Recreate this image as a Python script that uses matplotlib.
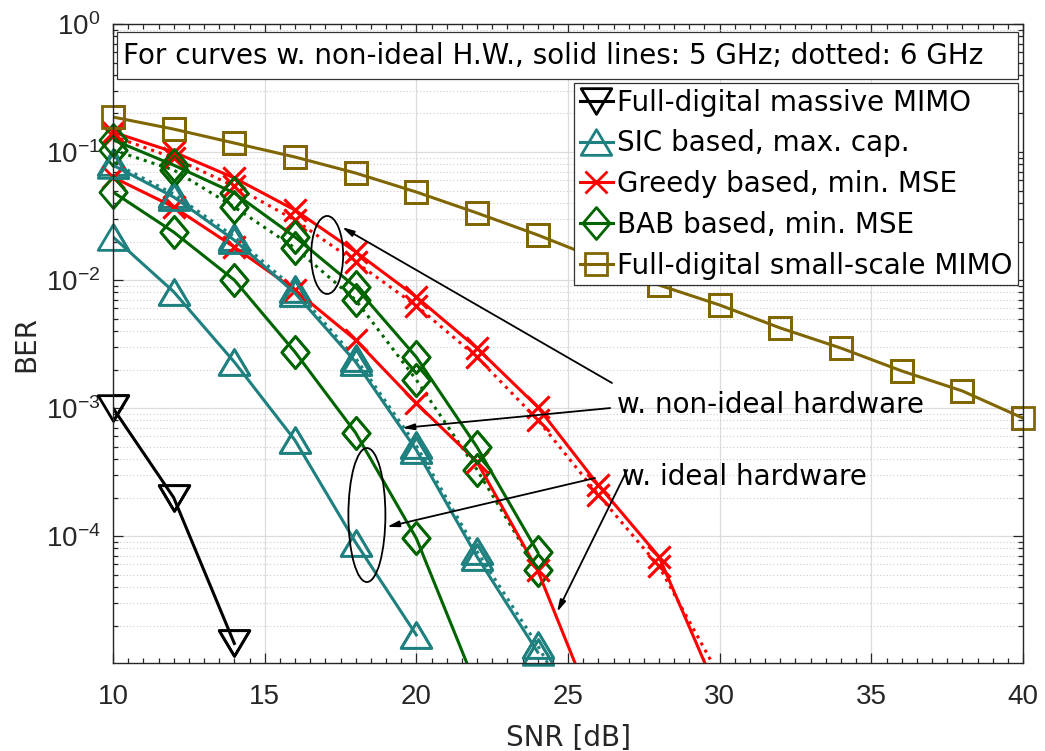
import matplotlib
matplotlib.use("Agg")
import matplotlib.pyplot as plt
import numpy as np
from matplotlib.patches import Ellipse, Rectangle
from matplotlib.path import Path
from matplotlib.ticker import LogLocator, MultipleLocator, NullFormatter

plt.rcParams["font.family"] = ["DejaVu Sans"]
plt.rcParams["mathtext.fontset"] = "custom"
plt.rcParams["mathtext.rm"] = "Liberation Sans"
plt.rcParams["mathtext.it"] = "Liberation Sans"

# ---- data -------------------------------------------------------------
snr_full_massive = [10, 12, 14]
ber_full_massive = [1.0e-3, 2.0e-4, 1.45e-5]

snr_sic_ideal = [10, 12, 14, 16, 18, 20]
ber_sic_ideal = [0.0217, 8.1e-3, 2.29e-3, 5.6e-4, 8.9e-5, 1.69e-5]

snr_sic_5g = [10, 12, 14, 16, 18, 20, 22, 24]
ber_sic_5g = [0.079, 0.0445, 0.0205, 7.9e-3, 2.29e-3, 4.7e-4, 6.9e-5, 1.24e-5]
snr_sic_6g = [10, 12, 14, 16, 18, 20, 22, 24, 26]
ber_sic_6g = [0.083, 0.047, 0.0218, 8.5e-3, 2.45e-3, 5.1e-4, 7.6e-5, 1.4e-5, 2.0e-6]

snr_greedy_ideal = [10, 12, 14, 16, 18, 20, 22, 24, 26]
ber_greedy_ideal = [0.0636, 0.0372, 0.0181, 8.35e-3, 3.4e-3, 1.09e-3, 3.8e-4, 5.4e-5, 3.6e-6]

snr_greedy_5g = [10, 12, 14, 16, 18, 20, 22, 24, 26, 28, 30]
ber_greedy_5g = [0.143, 0.100, 0.0627, 0.0352, 0.0166, 7.37e-3, 2.94e-3, 1.02e-3,
                 2.5e-4, 6.9e-5, 5.5e-6]
snr_greedy_6g = [10, 12, 14, 16, 18, 20, 22, 24, 26, 28, 30]
ber_greedy_6g = [0.133, 0.090, 0.054, 0.0294, 0.0138, 6.3e-3, 2.5e-3, 8.1e-4,
                 2.1e-4, 5.8e-5, 8.0e-6]

snr_bab_ideal = [10, 12, 14, 16, 18, 20, 22]
ber_bab_ideal = [0.0487, 0.0237, 0.0100, 2.74e-3, 6.4e-4, 9.6e-5, 6.5e-6]

snr_bab_5g = [10, 12, 14, 16, 18, 20, 22, 24]
ber_bab_5g = [0.1244, 0.079, 0.0478, 0.0217, 8.8e-3, 2.5e-3, 4.96e-4, 7.5e-5]
snr_bab_6g = [10, 12, 14, 16, 18, 20, 22, 24]
ber_bab_6g = [0.1037, 0.0724, 0.0372, 0.0178, 6.98e-3, 1.66e-3, 3.3e-4, 5.4e-5]

snr_full_small = [10, 12, 14, 16, 18, 20, 22, 24, 26, 28, 30, 32, 34, 36, 38, 40]
ber_full_small = [0.1876, 0.151, 0.1175, 0.0914, 0.0685, 0.0487, 0.0334, 0.0225,
                  0.0146, 9.14e-3, 6.38e-3, 4.22e-3, 2.94e-3, 1.95e-3, 1.36e-3, 8.35e-4]

legend_labels = [
    "Full-digital massive MIMO",
    "SIC based, max. cap.",
    "Greedy based, min. MSE",
    "BAB based, min. MSE",
    "Full-digital small-scale MIMO",
]

# ---- style ------------------------------------------------------------
BLACK = "#000000"
TEAL = "#1f8080"
RED = "#ff0000"
GREEN = "#006400"
OLIVE = "#806600"
AX_COLOR = "#262626"
YMIN, YMAX = 1.02e-5, 1.0

# wider-than-tall triangles and taller-than-wide diamond
TRI_UP = Path([(0, 0.84), (-1, -0.84), (1, -0.84), (0, 0.84)], closed=True)
TRI_DOWN = Path([(0, -0.84), (-1, 0.84), (1, 0.84), (0, -0.84)], closed=True)
DIAMOND = Path([(0, 1), (0.85, 0), (0, -1), (-0.85, 0), (0, 1)], closed=True)

MARKERS = {
    "tri_down": dict(marker=TRI_DOWN, markersize=22),
    "tri_up": dict(marker=TRI_UP, markersize=22),
    "x": dict(marker="x", markersize=16),
    "diamond": dict(marker=DIAMOND, markersize=23),
    "square": dict(marker="s", markersize=15.5),
}

fig = plt.figure(figsize=(10.45, 7.51), dpi=100)
ax = fig.add_axes([113 / 1045, 1 - 663 / 751, 910 / 1045, 639 / 751])


def curve(x, y, style, color, mkey):
    """Line clipped to the axes; markers of in-range points are left unclipped."""
    mk = MARKERS[mkey]
    kw = dict(color=color, markerfacecolor="none", markeredgewidth=2.0)
    line, = ax.plot(x, y, style, linewidth=2.2, **mk, **kw)
    xs = [a for a, b in zip(x, y) if YMIN <= b <= YMAX]
    ys = [b for b in y if YMIN <= b <= YMAX]
    ax.plot(xs, ys, linestyle="none", clip_on=False, **mk, **kw)
    return line


# non-ideal hardware, 6 GHz (dotted)
curve(snr_sic_6g, ber_sic_6g, ":", TEAL, "tri_up")
curve(snr_greedy_6g, ber_greedy_6g, ":", RED, "x")
curve(snr_bab_6g, ber_bab_6g, ":", GREEN, "diamond")

# ideal hardware
curve(snr_sic_ideal, ber_sic_ideal, "-", TEAL, "tri_up")
curve(snr_greedy_ideal, ber_greedy_ideal, "-", RED, "x")
curve(snr_bab_ideal, ber_bab_ideal, "-", GREEN, "diamond")

# non-ideal hardware, 5 GHz (solid) and the full-digital references
h0 = curve(snr_full_massive, ber_full_massive, "-", BLACK, "tri_down")
h1 = curve(snr_sic_5g, ber_sic_5g, "-", TEAL, "tri_up")
h2 = curve(snr_greedy_5g, ber_greedy_5g, "-", RED, "x")
h3 = curve(snr_bab_5g, ber_bab_5g, "-", GREEN, "diamond")
h4 = curve(snr_full_small, ber_full_small, "-", OLIVE, "square")

ax.set_yscale("log")
ax.set_xlim(10, 40)
ax.set_ylim(YMIN, YMAX)
ax.set_yticks([1e-4, 1e-3, 1e-2, 1e-1, 1e0])
ax.yaxis.set_minor_locator(LogLocator(base=10, subs=np.arange(2, 10), numticks=20))
ax.yaxis.set_minor_formatter(NullFormatter())
ax.xaxis.set_major_locator(MultipleLocator(5))
ax.xaxis.set_minor_locator(MultipleLocator(0.5))

ax.grid(True, which="major", color="#dcdcdc", linewidth=0.9, linestyle="-")
ax.grid(True, which="minor", axis="y", color="#cccccc", linewidth=0.8, linestyle=(0, (1, 2)))
ax.set_axisbelow(True)

ax.tick_params(which="both", direction="in", top=True, right=True, colors=AX_COLOR,
               labelsize=20, width=0.9, labelfontfamily="Liberation Sans")
ax.tick_params(which="major", length=7)
ax.tick_params(which="minor", length=3.5)
ax.tick_params(axis="x", which="major", pad=15)
ax.tick_params(axis="y", which="major", pad=9)
for spine in ax.spines.values():
    spine.set_color(AX_COLOR)
    spine.set_linewidth(1.0)

ax.set_xlabel("SNR [dB]", fontsize=20, color=AX_COLOR, labelpad=10)
ax.set_ylabel("BER", fontsize=20, color=AX_COLOR, labelpad=4)

leg = ax.legend([h0, h1, h2, h3, h4], legend_labels, loc="upper right",
                bbox_to_anchor=(1018 / 1045, 1 - 83 / 751), bbox_transform=fig.transFigure,
                fontsize=20, frameon=True, fancybox=False, framealpha=1, borderpad=0.2,
                handlelength=1.2, handletextpad=0.15, labelspacing=0.46, borderaxespad=0)
leg.get_frame().set_edgecolor("#333333")
leg.get_frame().set_linewidth(0.9)
leg.set_zorder(20)

# note box at the top of the axes
note = Rectangle((117 / 1045, 1 - 79 / 751), 901 / 1045, 47 / 751, transform=fig.transFigure,
                 facecolor="white", edgecolor="#333333", linewidth=0.9, zorder=20)
fig.patches.append(note)
fig.text(123 / 1045, 1 - 56 / 751,
         "For curves w. non-ideal H.W., solid lines: 5 GHz; dotted: 6 GHz",
         fontsize=20, ha="left", va="center", color="black", zorder=21)


def to_axes(x, y):
    return ax.transAxes.inverted().transform(ax.transData.transform((x, y)))


# ellipses grouping the curves (sizes in pixels of the axes box)
ax_w, ax_h = 910.0, 639.0
for cx, cy, w_px, h_px in [(17.06, 0.0157, 32, 78), (18.37, 1.46e-4, 37, 134)]:
    ex, ey = to_axes(cx, cy)
    ax.add_patch(Ellipse((ex, ey), w_px / ax_w, h_px / ax_h, transform=ax.transAxes,
                         fill=False, edgecolor="black", linewidth=1.3, zorder=15))

arrow = dict(arrowstyle="-|>,head_length=0.7,head_width=0.18", color="black", lw=1.3,
             shrinkA=0, shrinkB=0)
ax.annotate("", xy=(17.55, 0.0259), xytext=(26.45, 1.57e-3), arrowprops=arrow, zorder=15)
ax.annotate("", xy=(19.53, 6.98e-4), xytext=(26.39, 1.0e-3), arrowprops=arrow, zorder=15)
ax.annotate("", xy=(19.03, 1.18e-4), xytext=(25.89, 2.84e-4), arrowprops=arrow, zorder=15)
ax.annotate("", xy=(24.64, 2.55e-5), xytext=(26.95, 3.28e-4), arrowprops=arrow, zorder=15)

ax.text(26.62, 1.05e-3, "w. non-ideal hardware", fontsize=20, ha="left", va="center",
        color="black", zorder=16)
ax.text(26.78, 2.89e-4, "w. ideal hardware", fontsize=20, ha="left", va="center",
        color="black", zorder=16)

fig.savefig("out.png", dpi=100)
